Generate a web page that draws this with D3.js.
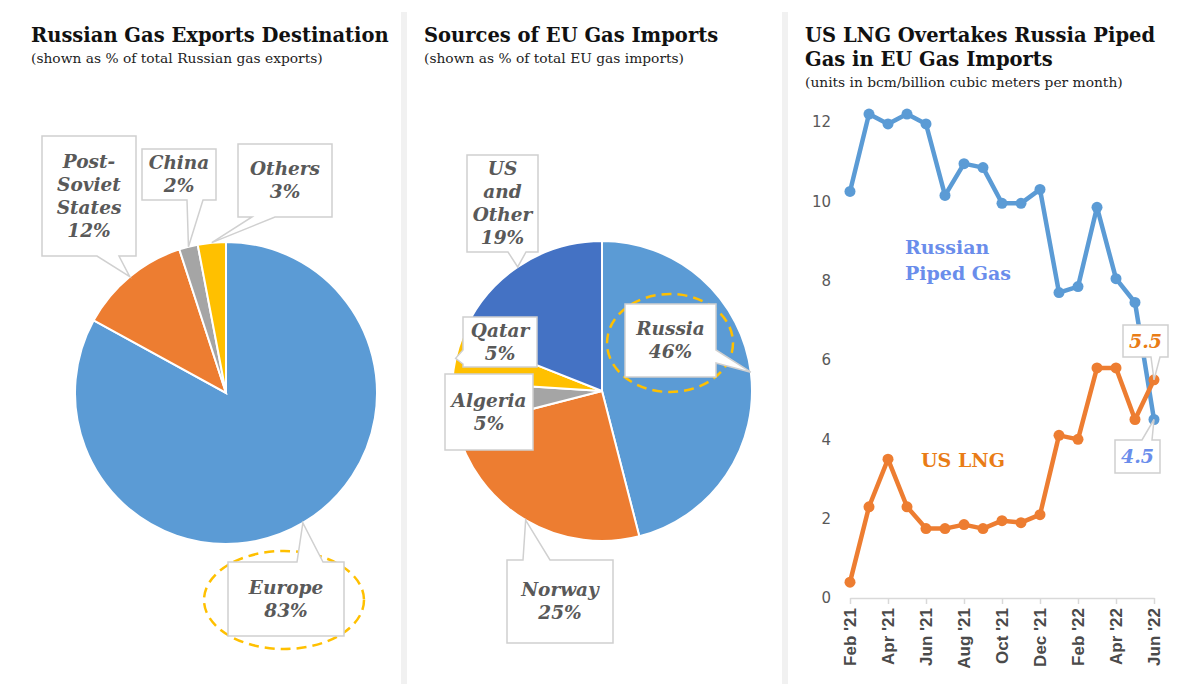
<!DOCTYPE html>
<html>
<head>
<meta charset="utf-8">
<script src="https://cdn.jsdelivr.net/npm/d3@7"></script>
<style>
  body { margin: 0; background: #fff; }
  svg { display: block; }
  .title { font-family: 'DejaVu Serif', serif; font-weight: bold; font-size: 19.5px; fill: #111; }
  .subtitle { font-family: 'DejaVu Serif', serif; font-size: 13.8px; fill: #222; }
  .callout { fill: #fff; stroke: #d0d0d0; stroke-width: 1.5; }
  .callout-text { font-family: 'DejaVu Serif', serif; font-weight: bold; font-style: italic; font-size: 18.5px; fill: #595959; }
  .highlight { fill: none; stroke: #ffc000; stroke-width: 2.5; stroke-dasharray: 10 6; }
  .axis text { font-family: 'DejaVu Sans', sans-serif; fill: #595959; }
  .series-name { font-family: 'DejaVu Serif', serif; font-weight: bold; font-size: 19px; }
</style>
</head>
<body>
<svg id="chart" width="1200" height="693"></svg>
<script>
const exportCategories = ['Europe', 'Post-Soviet States', 'China', 'Others'];
const exportShares = [83, 12, 2, 3];
const importCategories = ['Russia', 'Norway', 'Algeria', 'Qatar', 'US and Other'];
const importShares = [46, 25, 5, 5, 19];
const months = ["Feb '21", "Mar '21", "Apr '21", "May '21", "Jun '21", "Jul '21", "Aug '21", "Sep '21",
  "Oct '21", "Nov '21", "Dec '21", "Jan '22", "Feb '22", "Mar '22", "Apr '22", "May '22", "Jun '22"];
const russianPiped = [10.25, 12.2, 11.95, 12.2, 11.95, 10.15, 10.95, 10.85, 9.95, 9.95, 10.3, 7.7, 7.85, 9.85, 8.05, 7.45, 4.5];
const usLng = [0.4, 2.3, 3.5, 2.3, 1.75, 1.75, 1.85, 1.75, 1.95, 1.9, 2.1, 4.1, 4.0, 5.8, 5.8, 4.5, 5.5];
const seriesNames = ['Russian Piped Gas', 'US LNG'];
const yTicks = [0, 2, 4, 6, 8, 10, 12];
const monthTicks = months.filter((m, i) => i % 2 === 0);

const exportColors = ['#5b9bd5', '#ed7d31', '#a5a5a5', '#ffc000'];
const importColors = ['#5b9bd5', '#ed7d31', '#a5a5a5', '#ffc000', '#4472c4'];

const svg = d3.select('#chart');

// panel separators
[401, 782].forEach(x => {
  svg.append('rect')
    .attr('x', x).attr('y', 12)
    .attr('width', 6).attr('height', 672)
    .attr('fill', '#f1f1f1');
});

const addTitle = (x, lines, subtitle, subY) => {
  lines.forEach((t, i) => {
    svg.append('text').attr('class', 'title')
      .attr('x', x).attr('y', 42 + i * 24).text(t);
  });
  svg.append('text').attr('class', 'subtitle')
    .attr('x', x).attr('y', subY).text(subtitle);
};

addTitle(31, ['Russian Gas Exports Destination'], '(shown as % of total Russian gas exports)', 63);
addTitle(424, ['Sources of EU Gas Imports'], '(shown as % of total EU gas imports)', 63);
addTitle(805, ['US LNG Overtakes Russia Piped', 'Gas in EU Gas Imports'], '(units in bcm/billion cubic meters per month)', 87);

const calloutPath = (b, side, p1, p2, tip) => {
  const [x0, y0, x1, y1] = b;
  if (!side) return `M${x0},${y0}H${x1}V${y1}H${x0}Z`;
  if (side === 'bottom') return `M${x0},${y0}H${x1}V${y1}H${p2}L${tip[0]},${tip[1]}L${p1},${y1}H${x0}Z`;
  if (side === 'top') return `M${x0},${y0}H${p1}L${tip[0]},${tip[1]}L${p2},${y0}H${x1}V${y1}H${x0}Z`;
  if (side === 'right') return `M${x0},${y0}H${x1}V${p1}L${tip[0]},${tip[1]}L${x1},${p2}V${y1}H${x0}Z`;
  return `M${x0},${y0}H${x1}V${y1}H${x0}V${p2}L${tip[0]},${tip[1]}L${x0},${p1}Z`;
};

const drawCallout = (b, side, p1, p2, tip, lines) => {
  svg.append('path').attr('class', 'callout')
    .attr('d', calloutPath(b, side, p1, p2, tip));
  const cx = (b[0] + b[2]) / 2;
  const cy = (b[1] + b[3]) / 2;
  const lh = 23;
  lines.forEach((t, i) => {
    svg.append('text').attr('class', 'callout-text')
      .attr('x', cx)
      .attr('y', cy + (i - (lines.length - 1) / 2) * lh)
      .attr('dy', '0.35em')
      .attr('text-anchor', 'middle')
      .text(t);
  });
};

const drawPie = (cx, cy, r, categories, values, colors, labels) => {
  const pie = d3.pie().sort(null).value(d => d);
  const arcs = pie(values);
  const arc = d3.arc().innerRadius(0).outerRadius(r);
  const g = svg.append('g').attr('transform', `translate(${cx},${cy})`);
  g.selectAll('path')
    .data(arcs)
    .enter()
    .append('path')
    .attr('d', arc)
    .attr('fill', (d, i) => colors[i])
    .attr('stroke', '#fff')
    .attr('stroke-width', 2);

  arcs.forEach((a, i) => {
    const lab = labels[categories[i]];
    const mid = (a.startAngle + a.endAngle) / 2;
    const tip = [cx + r * Math.sin(mid), cy - r * Math.cos(mid)];
    if (lab.ring) {
      svg.append('ellipse').attr('class', 'highlight')
        .attr('cx', lab.ring[0]).attr('cy', lab.ring[1])
        .attr('rx', lab.ring[2]).attr('ry', lab.ring[3]);
    }
    drawCallout(lab.box, lab.side, lab.base && lab.base[0], lab.base && lab.base[1], tip,
      lab.lines.concat(`${values[i]}%`));
  });
};

drawPie(226, 393, 151, exportCategories, exportShares, exportColors, {
  'Europe': { box: [228, 562, 344, 636], side: 'top', base: [297, 323], lines: ['Europe'], ring: [284, 600, 80, 49] },
  'Post-Soviet States': { box: [42, 136, 136, 256], side: 'bottom', base: [97, 119], lines: ['Post-', 'Soviet', 'States'] },
  'China': { box: [142, 149, 216, 200], side: 'bottom', base: [187, 203], lines: ['China'] },
  'Others': { box: [238, 144, 332, 217], side: 'bottom', base: [252, 275], lines: ['Others'] }
});

drawPie(602, 391, 150, importCategories, importShares, importColors, {
  'Russia': { box: [625, 304, 716, 377], side: 'right', base: [350, 363], lines: ['Russia'], ring: [670, 343, 63, 49] },
  'Norway': { box: [507, 560, 613, 643], side: 'top', base: [523, 550], lines: ['Norway'] },
  'Algeria': { box: [445, 374, 533, 450], side: null, lines: ['Algeria'] },
  'Qatar': { box: [463, 317, 537, 367], side: 'left', base: [350, 364], lines: ['Qatar'] },
  'US and Other': { box: [467, 155, 538, 252], side: 'bottom', base: [508, 526], lines: ['US', 'and', 'Other'] }
});

// line chart
const x = d3.scalePoint().domain(months).range([850, 1154]);
const y = d3.scaleLinear().domain([0, 12]).range([598, 122]);

const yAxis = svg.append('g')
  .attr('class', 'axis')
  .attr('transform', 'translate(837,0)')
  .call(d3.axisLeft(y).tickValues(yTicks).tickSize(0).tickPadding(6));
yAxis.select('.domain').remove();
yAxis.selectAll('text').style('font-size', '15px');

const xAxis = svg.append('g')
  .attr('class', 'axis')
  .attr('transform', 'translate(0,598)')
  .call(d3.axisBottom(x).tickValues(monthTicks).tickSize(6).tickSizeOuter(0));
xAxis.select('.domain').attr('stroke', '#d9d9d9').attr('stroke-width', 1.5);
xAxis.selectAll('line').attr('stroke', '#d9d9d9').attr('stroke-width', 1.5);
xAxis.selectAll('text')
  .attr('transform', 'rotate(-90)')
  .attr('text-anchor', 'end')
  .attr('x', -10)
  .attr('y', 0)
  .attr('dy', '0.35em')
  .style('font-family', "'Liberation Sans', sans-serif")
  .style('font-weight', 'bold')
  .style('font-size', '17px')
  .style('fill', '#4a4a4a');

const valueLine = d3.line()
  .x((d, i) => x(months[i]))
  .y(d => y(d));

[[russianPiped, '#5b9bd5'], [usLng, '#ed7d31']].forEach(([series, color]) => {
  svg.append('path')
    .data([series])
    .attr('d', valueLine)
    .attr('fill', 'none')
    .attr('stroke', color)
    .attr('stroke-width', 4.5)
    .attr('stroke-linejoin', 'round');
  svg.selectAll(null)
    .data(series)
    .enter()
    .append('circle')
    .attr('cx', (d, i) => x(months[i]))
    .attr('cy', d => y(d))
    .attr('r', 5.5)
    .attr('fill', color);
});

const nameWords = seriesNames[0].split(' ');
svg.append('text').attr('class', 'series-name')
  .attr('x', 905).attr('y', 254)
  .attr('fill', '#6a8deb')
  .text(nameWords[0]);
svg.append('text').attr('class', 'series-name')
  .attr('x', 905).attr('y', 280)
  .attr('fill', '#6a8deb')
  .text(nameWords.slice(1).join(' '));
svg.append('text').attr('class', 'series-name')
  .attr('x', 921).attr('y', 467)
  .attr('fill', '#e97c16')
  .text(seriesNames[1]);

const last = months.length - 1;
const fmt = d3.format('.1f');
const endLabel = (b, side, base, value, color) => {
  const tip = [x(months[last]), y(value)];
  svg.append('path').attr('class', 'callout')
    .attr('d', calloutPath(b, side, base[0], base[1], tip));
  svg.append('text').attr('class', 'callout-text')
    .attr('x', (b[0] + b[2]) / 2)
    .attr('y', (b[1] + b[3]) / 2)
    .attr('dy', '0.35em')
    .attr('text-anchor', 'middle')
    .style('fill', color)
    .style('font-size', '19px')
    .text(fmt(value));
};
endLabel([1123, 325, 1168, 357], 'bottom', [1151, 1160], usLng[last], '#e97c16');
endLabel([1115, 440, 1160, 473], 'top', [1142, 1152], russianPiped[last], '#6a8deb');
</script>
</body>
</html>
